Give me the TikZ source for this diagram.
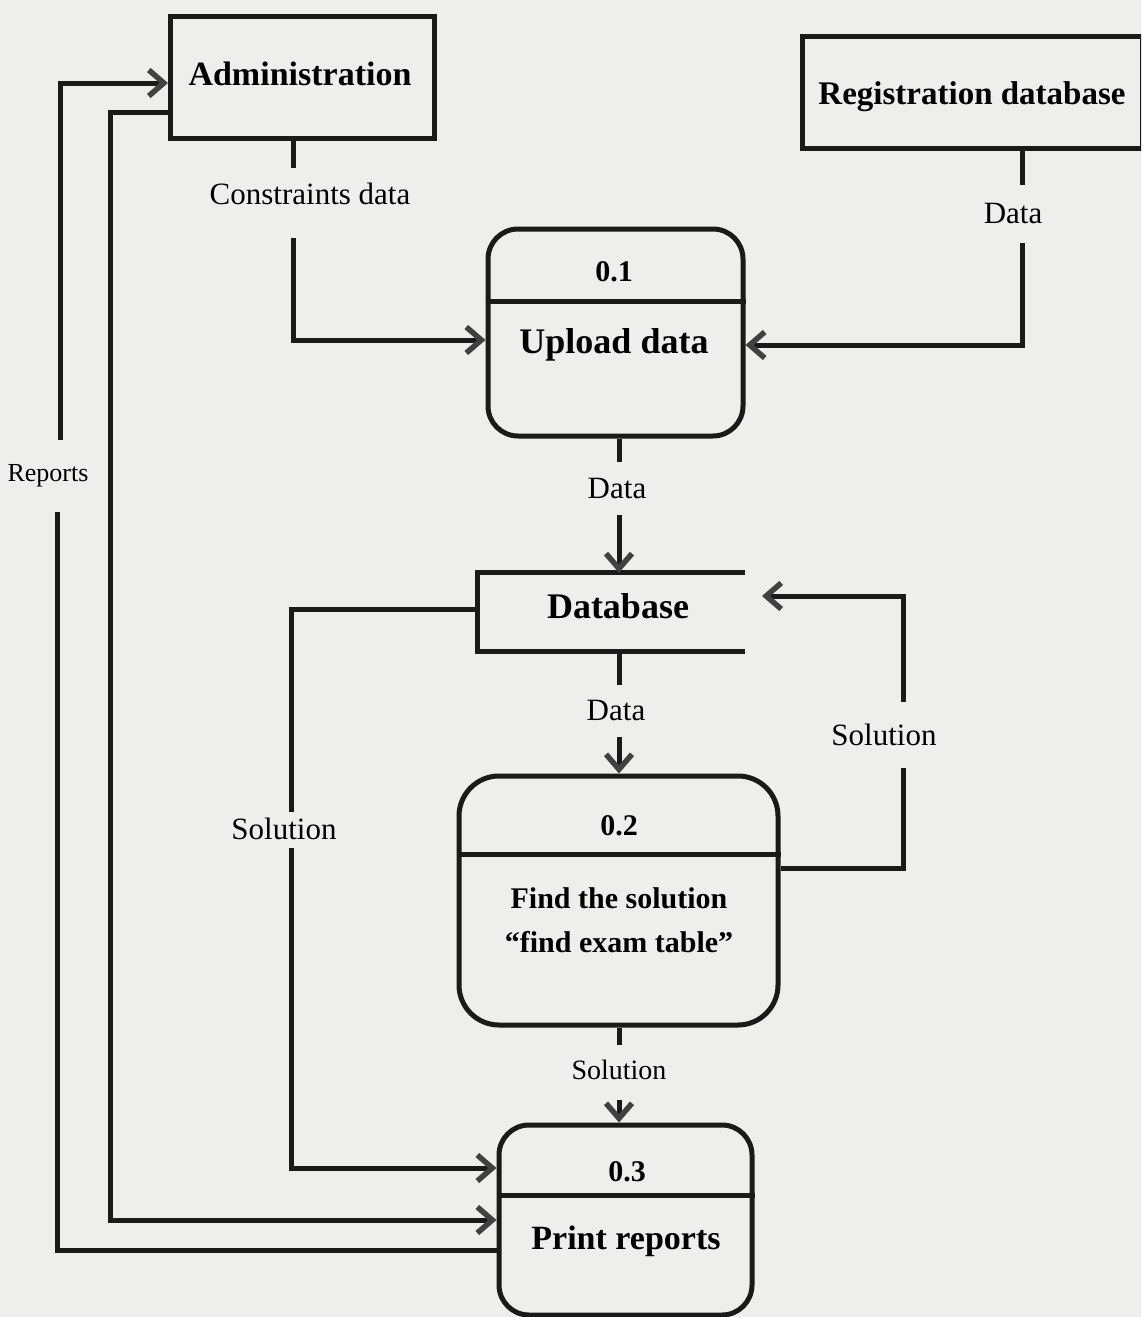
\documentclass[tikz,border=0pt]{standalone}
\usepackage{fontspec}
\setmainfont{Liberation Serif}
\usetikzlibrary{arrows.meta}
\definecolor{paper}{RGB}{238,238,237}
\definecolor{ink}{RGB}{26,26,26}
\definecolor{tipink}{RGB}{65,65,65}
\begin{document}
\begin{tikzpicture}[x=1pt,y=-1pt,
  line/.style={draw=ink,line width=5pt},
  arr/.style={line,-{Straight Barb[length=15pt,width=26pt,line width=5.5pt,color=tipink]}},
  box/.style={draw=ink,line width=5pt,inner sep=0pt},
  proc/.style={box,rounded corners=30pt},
  title/.style={inner sep=0pt,font=\fontsize{34}{40}\selectfont\bfseries},
  num/.style={inner sep=0pt,font=\fontsize{30}{34}\selectfont\bfseries},
  ptext/.style={inner sep=0pt,font=\fontsize{30}{38}\selectfont\bfseries},
  lbl/.style={inner sep=0pt,font=\fontsize{31}{36}\selectfont}]
\useasboundingbox (0,0) rectangle (1141,1317);
\fill[paper] (0,0) rectangle (1141,1317);
\clip (0,0) rectangle (1141,1317);

% external entities
\node[box,minimum width=264pt,minimum height=122pt] (admin) at (302.5,77) {};
\node[title] (admintxt) at (300,74) {Administration};
\node[box,minimum width=340pt,minimum height=112pt] (reg) at (972,92) {};
\node[title,font=\fontsize{33}{40}\selectfont\bfseries] (regtxt) at (972,97) {Registration database};

% process 0.1
\node[proc,minimum width=255pt,minimum height=207pt] (up) at (615.5,332.5) {};
\draw[line] (up.west |- 0,301) -- (up.east |- 0,301);
\node[num] (upnum) at (614,272) {0.1};
\node[title,font=\fontsize{36}{42}\selectfont\bfseries] (uptxt) at (614,345) {Upload data};

% data store
\node[minimum width=267pt,minimum height=78pt,inner sep=0pt] (db) at (611.5,612) {};
\draw[line] (db.north east) -- (db.north west) -- (db.south west) -- (db.south east);
\node[title,font=\fontsize{36}{42}\selectfont\bfseries] (dbtxt) at (618,606) {Database};

% process 0.2
\node[proc,rounded corners=40pt,minimum width=319pt,minimum height=249pt] (fs) at (618.5,900.5) {};
\draw[line] (fs.west |- 0,854) -- (fs.east |- 0,854);
\node[num] (fsnum) at (619,826) {0.2};
\node[ptext,align=center] (fstxt) at (619,920) {Find the solution\\[6pt]“find exam table”};

% process 0.3
\node[proc,minimum width=253pt,minimum height=190pt] (pr) at (625.5,1220) {};
\draw[line] (pr.west |- 0,1195) -- (pr.east |- 0,1195);
\node[num] (prnum) at (627,1172) {0.3};
\node[title] (prtxt) at (626,1241) {Print reports};

% flow labels
\node[lbl] (lcons) at (310,194) {Constraints data};
\node[lbl] (lreg) at (1013,213) {Data};
\node[lbl] (lup) at (617,488) {Data};
\node[lbl] (ldb) at (616,710) {Data};
\node[lbl] (lsolr) at (884,735) {Solution};
\node[lbl] (lsoll) at (284,829) {Solution};
\node[lbl,font=\fontsize{28}{32}\selectfont] (lsolb) at (619,1070) {Solution};
\node[lbl,font=\fontsize{26}{30}\selectfont] (lrep) at (48,476) {Reports};

% break points of the flows
\coordinate (c1) at (293,168);
\coordinate (c2) at (293,238);
\coordinate (r1) at (1022,185);
\coordinate (r2) at (1022,243);
\coordinate (u1) at (619,462);
\coordinate (u2) at (619,515);
\coordinate (d1) at (619,685);
\coordinate (d2) at (619,737);
\coordinate (s1) at (903,768);
\coordinate (s2) at (903,702);
\coordinate (dbin) at (762,596);
\coordinate (l1) at (291,812);
\coordinate (l2) at (291,848);
\coordinate (b1) at (619,1045);
\coordinate (b2) at (619,1100);
\coordinate (p1) at (57,512);
\coordinate (p2) at (60,440);

% flows
\draw[line] (admin.south -| c1) -- (c1);
\draw[arr] (c2) |- (up.west |- 0,340);
\draw[line] (reg.south -| r1) -- (r1);
\draw[arr] (r2) |- (up.east |- 0,345);
\draw[line] (up.south -| u1) -- (u1);
\draw[arr] (u2) -- (db.north -| u2);
\draw[line] (db.south -| d1) -- (d1);
\draw[arr] (d2) -- (fs.north -| d2);
\draw[line] (fs.east |- 0,868) -| (s1);
\draw[arr] (s2) |- (dbin);
\draw[line] (db.west |- 0,609) -| (l1);
\draw[arr] (l2) |- (pr.west |- 0,1168);
\draw[line] (fs.south -| b1) -- (b1);
\draw[arr] (b2) -- (pr.north -| b2);
\draw[arr] (admin.west |- 0,112) -| (110,1220) -- (pr.west |- 0,1220);
\draw[line] (pr.west |- 0,1250) -| (p1);
\draw[arr] (p2) |- (admin.west |- 0,83);
\end{tikzpicture}
\end{document}
